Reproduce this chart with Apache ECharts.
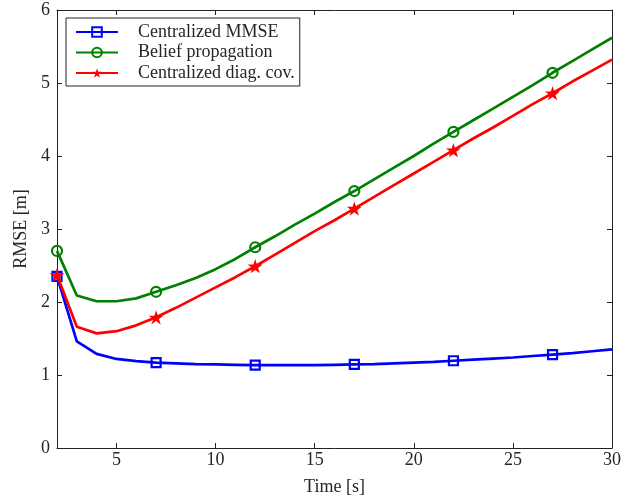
<!DOCTYPE html>
<html>
<head>
<meta charset="utf-8">
<script src="https://cdn.jsdelivr.net/npm/echarts@6/dist/echarts.min.js"></script>
<style>html,body{margin:0;padding:0;background:#fff;}#c{width:641px;height:504px;}</style>
</head>
<body>
<div id="c"></div>
<script>
const times = [2,3,4,5,6,7,8,9,10,11,12,13,14,15,16,17,18,19,20,21,22,23,24,25,26,27,28,29,30];
const markerTimes = [2,7,12,17,22,27];
const mmse = [2.35,1.46,1.29,1.22,1.19,1.17,1.16,1.15,1.145,1.14,1.135,1.135,1.135,1.135,1.14,1.145,1.15,1.16,1.17,1.18,1.195,1.21,1.225,1.24,1.26,1.28,1.30,1.325,1.35];
const bp = [2.70,2.09,2.01,2.01,2.05,2.14,2.23,2.33,2.45,2.59,2.75,2.90,3.06,3.21,3.37,3.52,3.68,3.84,4.00,4.17,4.33,4.49,4.65,4.81,4.97,5.14,5.30,5.46,5.62];
const diag = [2.37,1.66,1.57,1.60,1.68,1.79,1.92,2.06,2.20,2.34,2.49,2.65,2.81,2.97,3.12,3.28,3.44,3.60,3.76,3.92,4.08,4.24,4.39,4.55,4.71,4.86,5.02,5.17,5.32];
const seriesNames = ['Centralized MMSE','Belief propagation','Centralized diag. cov.'];
const xTicks = [5,10,15,20,25,30];
const yTicks = [0,1,2,3,4,5,6];
const xLabel = 'Time [s]';
const yLabel = 'RMSE [m]';

const FONT = 'Liberation Serif';
const TXT = '#262626';
const STAR = 'path://M50 0L61.2 34.5L97.6 34.5L68.2 55.9L79.4 90.5L50 69.1L20.6 90.5L31.8 55.9L2.4 34.5L38.8 34.5Z';

function build(vals){
  return times.map((t,i)=> markerTimes.indexOf(t) >= 0 ? [t, vals[i]] : {value:[t, vals[i]], symbol:'none'});
}

const axisCommon = {
  min: 0, max: 6, interval: 1,
  axisLine:{show:true, lineStyle:{color:'#222', width:1}},
  axisTick:{show:true, inside:true, length:5, lineStyle:{color:'#222'}},
  splitLine:{show:false}
};

const chart = echarts.init(document.getElementById('c'), null, {renderer:'canvas'});
chart.setOption({
  animation:false,
  backgroundColor:'#fff',
  grid:{left:57, right:29, top:10, bottom:56},
  legend:{
    orient:'vertical', left:66, top:18,
    padding:[5,5,4,9],
    itemWidth:42, itemHeight:12, itemGap:2.5,
    backgroundColor:'#fff', borderColor:'#222', borderWidth:1, borderRadius:0,
    textStyle:{fontFamily:FONT, fontSize:18, color:TXT, lineHeight:17, padding:[0,0,0,15]},
    data: seriesNames
  },
  xAxis:[
    {type:'value', position:'bottom', min:2, max:30,
     name:xLabel, nameLocation:'middle', nameGap:30,
     nameTextStyle:{fontFamily:FONT, fontSize:18, color:TXT},
     axisLine:{show:true, onZero:false, lineStyle:{color:'#222', width:1}},
     axisTick:{show:true, inside:true, length:5, customValues:xTicks, lineStyle:{color:'#222'}},
     axisLabel:{customValues:xTicks, fontFamily:FONT, fontSize:18, color:TXT, margin:3},
     splitLine:{show:false}},
    {type:'value', position:'top', min:2, max:30,
     axisLine:{show:true, onZero:false, lineStyle:{color:'#222', width:1}},
     axisTick:{show:true, inside:true, length:5, customValues:xTicks, lineStyle:{color:'#222'}},
     axisLabel:{show:false},
     splitLine:{show:false}}
  ],
  yAxis:[
    Object.assign({type:'value', position:'left',
      name:yLabel, nameLocation:'middle', nameGap:25,
      nameTextStyle:{fontFamily:FONT, fontSize:18, color:TXT},
      axisLabel:{customValues:yTicks, fontFamily:FONT, fontSize:18, color:TXT, margin:7}}, axisCommon),
    Object.assign({type:'value', position:'right', axisLabel:{show:false}}, axisCommon)
  ],
  series:[
    {name:seriesNames[0], type:'line', data:build(mmse), symbol:'rect', symbolSize:9, showAllSymbol:true,
     lineStyle:{color:'#0000ff', width:2.7}, itemStyle:{color:'rgba(0,0,0,0)', borderColor:'#0000ff', borderWidth:2.2}, z:2},
    {name:seriesNames[1], type:'line', data:build(bp), symbol:'circle', symbolSize:10, showAllSymbol:true,
     lineStyle:{color:'#008000', width:2.7}, itemStyle:{color:'rgba(0,0,0,0)', borderColor:'#008000', borderWidth:2.2}, z:3},
    {name:seriesNames[2], type:'line', data:build(diag), symbol:STAR, symbolSize:15, symbolKeepAspect:true, showAllSymbol:true,
     lineStyle:{color:'#ff0000', width:2.7}, itemStyle:{color:'#ff0000', borderColor:'#ff0000', borderWidth:0}, z:4}
  ]
});
</script>
</body>
</html>
